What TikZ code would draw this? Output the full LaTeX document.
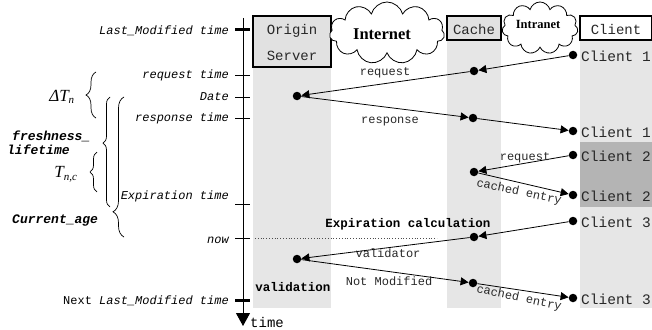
\documentclass[tikz,border=0pt]{standalone}
\usepackage{fontspec}
\setmainfont{Liberation Serif}
\setmonofont{Liberation Mono}
\usetikzlibrary{shapes.symbols,decorations.pathreplacing,arrows.meta}

\definecolor{lane}{RGB}{230,230,230}
\definecolor{lanedark}{RGB}{180,180,180}
\definecolor{headfill}{RGB}{225,225,225}
\definecolor{ink}{RGB}{40,40,40}

\tikzset{
  lbl/.style={font=\ttfamily\itshape\fontsize{12}{12}\selectfont, anchor=east, inner sep=0pt},
  msg/.style={font=\ttfamily\fontsize{12}{12}\selectfont, inner sep=0pt, text=ink},
  boldmsg/.style={font=\ttfamily\bfseries\fontsize{12.5}{12.5}\selectfont, inner sep=0pt},
  cli/.style={font=\ttfamily\fontsize{14.5}{14.5}\selectfont, anchor=west, inner sep=0pt, text=ink},
  hdr/.style={font=\ttfamily\fontsize{14}{14}\selectfont, inner sep=0pt, text=ink},
  brlbl/.style={font=\ttfamily\bfseries\itshape\fontsize{13}{13}\selectfont, inner sep=0pt, anchor=west},
  symlbl/.style={font=\itshape\fontsize{17}{17}\selectfont, inner sep=0pt},
  ev/.style={circle, fill=black, inner sep=0pt, minimum size=8.5pt},
  flow/.style={-{Triangle[length=8pt,width=8pt]}, line width=0.8pt},
  tickline/.style={line width=0.8pt},
  bigtick/.style={line width=3pt},
  brc/.style={decorate, line width=0.7pt},
  cloudnode/.style={cloud, cloud puffs=11, cloud ignores aspect, draw, fill=white, line width=0.8pt, inner sep=0pt},
}

\begin{document}
\begin{tikzpicture}[x=1pt,y=-1pt]
\useasboundingbox (0,0) rectangle (652,329);

% lanes
\fill[lane] (253,67) rectangle (331,308);
\fill[lane] (447,40) rectangle (501,308);
\fill[lane] (580,40) rectangle (652,308);
\fill[lanedark] (580,142) rectangle (652,207);

% lane headers
\draw[fill=headfill, line width=1.2pt] (253,16) rectangle (331,67);
\node[hdr] (hOrigin) at (292,31) {Origin};
\node[hdr] (hServer) at (292,56) {Server};
\draw[fill=headfill, line width=1.2pt] (447,16) rectangle (501,40);
\node[hdr] (hCache) at (474,29) {Cache};
\draw[fill=white, line width=1.2pt] (580,16) rectangle (651.4,40);
\node[hdr] (hClient) at (616,29) {Client};

% networks
\node[cloudnode, minimum width=115pt, minimum height=62pt] (net) at (387,33) {};
\node[font=\bfseries\fontsize{16.5}{16.5}\selectfont, inner sep=0pt] (netTxt) at (382,34) {Internet};
\node[cloudnode, minimum width=76pt, minimum height=52pt] (intra) at (540,28) {};
\node[font=\bfseries\fontsize{12.5}{12.5}\selectfont, inner sep=0pt] (intraTxt) at (538,24) {Intranet};

% time axis
\coordinate (axTop) at (243,18);
\coordinate (axEnd) at (243,326);
\draw[line width=1pt, -{Triangle[length=13pt,width=14pt]}] (axTop) -- (axEnd);
\node[font=\ttfamily\fontsize{14}{14}\selectfont, anchor=west, inner sep=0pt] (tTime) at (250,322) {time};

\draw[bigtick] (235,30) -- (250,30);
\draw[tickline] (235,75) -- (250,75);
\draw[tickline] (235,97) -- (250,97);
\draw[tickline] (235,118) -- (250,118);
\draw[tickline] (235,204) -- (250,204);
\draw[tickline] (235,238) -- (250,238);
\draw[bigtick] (235,300) -- (250,300);

\node[lbl] (lLM) at (229,31) {Last\_Modified time};
\node[lbl] (lReq) at (229,75) {request time};
\node[lbl] (lDate) at (229,97) {Date};
\node[lbl] (lResp) at (229,118) {response time};
\node[lbl] (lExp) at (229,196) {Expiration time};
\node[lbl] (lNow) at (229,240) {now};
\node[lbl] (lNext) at (229,301) {{\upshape Next }Last\_Modified time};

\draw[dotted, line width=0.8pt, black!70] (255,238) -- (437,238);

% braces
\draw[brc, decoration={brace, amplitude=10pt}] (96,118) -- (96,72);
\node[symlbl] (dTn) at (62,97) {ΔT\textsubscript{\fontsize{11}{11}\selectfont n}};
\draw[brc, decoration={brace, amplitude=7pt, aspect=0.58}] (110,207) -- (110,97);
\draw[brc, decoration={brace, amplitude=11pt, aspect=0.18}] (124,237) -- (124,97);
\draw[brc, decoration={brace, amplitude=7pt}] (97,192) -- (97,152);
\node[symlbl] (tnc) at (66,174) {T\textsubscript{\fontsize{11}{11}\selectfont n,c}};
\node[brlbl] (fresh1) at (12,136) {freshness\_};
\node[brlbl] (fresh2) at (7,150) {lifetime};
\node[brlbl] (curAge) at (12,221) {Current\_age};

% event points
\node[ev] (c1a) at (573,55) {};
\node[ev] (k1) at (474,71) {};
\node[ev] (o1) at (297,96) {};
\node[ev] (k2) at (473,118) {};
\node[ev] (c1b) at (573,131) {};
\node[ev] (c2a) at (573,155) {};
\node[ev] (k3) at (474,172) {};
\node[ev] (c2b) at (573,195) {};
\node[ev] (c3a) at (573,221) {};
\node[ev] (k4) at (474,237) {};
\node[ev] (o2) at (297,259) {};
\node[ev] (k5) at (473,283) {};
\node[ev] (c3b) at (573,298) {};

\node[cli] (tc1a) at (581,56) {Client 1};
\node[cli] (tc1b) at (581,132) {Client 1};
\node[cli] (tc2a) at (581,156) {Client 2};
\node[cli] (tc2b) at (581,196) {Client 2};
\node[cli] (tc3a) at (581,222) {Client 3};
\node[cli] (tc3b) at (581,299) {Client 3};

% messages
\draw[flow] (c1a) -- (k1);
\draw[flow] (k1) -- (o1);
\draw[flow] (o1) -- (k2);
\draw[flow] (k2) -- (c1b);
\draw[flow] (c2a) -- (k3);
\draw[flow] (k3) -- (c2b);
\draw[flow] (c3a) -- (k4);
\draw[flow] (k4) -- (o2);
\draw[flow] (o2) -- (k5);
\draw[flow] (k5) -- (c3b);

\node[msg] (mReq) at (385,73) {request};
\node[msg] (mResp) at (390,122) {response};
\node[msg] (mReq2) at (525,158) {request};
\node[msg, rotate=-12] (mCached1) at (519,192) {cached entry};
\node[boldmsg] (mExp) at (408,224) {Expiration calculation};
\node[msg] (mVal) at (388,253) {validator};
\node[msg] (mNM) at (389,281) {Not Modified};
\node[boldmsg] (mValid) at (293,287) {validation};
\node[msg, rotate=-12] (mCached2) at (519,298) {cached entry};
\end{tikzpicture}
\end{document}
